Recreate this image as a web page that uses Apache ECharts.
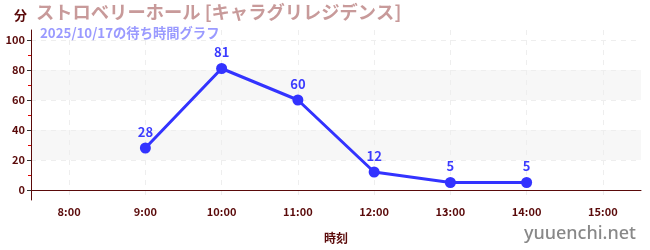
<!DOCTYPE html>
<html><head><meta charset="utf-8">
<script src="https://cdn.jsdelivr.net/npm/echarts@6/dist/echarts.min.js"></script>
<style>html,body{margin:0;padding:0;background:#fff}#c{width:650px;height:250px}</style>
</head><body><div id="c"></div>
<script>
const categories = ['8:00','9:00','10:00','11:00','12:00','13:00','14:00','15:00'];
const waitTimes = [null, 28, 81, 60, 12, 5, 5, null];
const yTicks = [0, 20, 40, 60, 80, 100];
const yMinorTicks = [10, 30, 50, 70, 90];
const yMin = -6.67, yMax = 106.67;
const titleText = 'ストロベリーホール [キャラグリレジデンス]';
const subtitleText = '2025/10/17の待ち時間グラフ';
const yName = '分';
const xName = '時刻';
const siteText = 'yuuenchi.net';

const FONT = '"Noto Sans CJK JP", "Noto Sans", sans-serif';
const MAROON = '#5a0a0a';
const chart = echarts.init(document.getElementById('c'), null, {renderer: 'canvas'});
chart.setOption({
  animation: false,
  textStyle: {fontFamily: FONT},
  title: [{
    text: titleText, left: 36, top: 3, padding: 0,
    textStyle: {fontFamily: FONT, fontSize: 18.3, fontWeight: 'bold', color: '#c89a9a'}
  }, {
    text: subtitleText, left: 40, top: 26, padding: 0,
    textStyle: {fontFamily: FONT, fontSize: 13.3, fontWeight: 'bold', color: '#9a9aff'}
  }],
  grid: {left: 31, right: 9, top: 30, bottom: 50, containLabel: false},
  xAxis: {
    type: 'category', data: categories, boundaryGap: true,
    name: xName, nameLocation: 'middle', nameGap: 32,
    nameTextStyle: {fontFamily: FONT, fontSize: 12, fontWeight: 'bold', color: MAROON},
    axisLine: {lineStyle: {color: MAROON, width: 1}},
    axisTick: {alignWithLabel: true, length: 4, lineStyle: {color: '#555'}},
    axisLabel: {fontFamily: FONT, fontSize: 11, fontWeight: 'bold', color: MAROON, margin: 6},
    splitLine: {show: true, alignWithLabel: true, lineStyle: {color: '#eeeeee', type: [5, 5]}}
  },
  yAxis: [{
    type: 'value', min: yMin, max: yMax,
    name: yName, nameLocation: 'end', nameGap: 8,
    nameTextStyle: {fontFamily: FONT, fontSize: 13, fontWeight: 'bold', color: MAROON, align: 'right', padding: [0, 4, 0, 0]},
    axisLine: {show: true, lineStyle: {color: MAROON, width: 1}},
    axisTick: {show: true, customValues: yTicks, length: 4, lineStyle: {color: '#333'}},
    axisLabel: {customValues: yTicks, fontFamily: FONT, fontSize: 11, fontWeight: 'bold', color: MAROON, margin: 6},
    splitLine: {show: true, lineStyle: {color: '#eeeeee', type: [5, 5]}},
    splitArea: {show: true, areaStyle: {color: ['rgba(0,0,0,0)', '#f7f7f7']}}
  }, {
    type: 'value', min: yMin, max: yMax, position: 'left',
    axisLine: {show: false},
    axisTick: {show: true, customValues: yMinorTicks, length: 3, lineStyle: {color: '#e00000', width: 1}},
    axisLabel: {show: false},
    splitLine: {show: false}
  }],
  graphic: [{
    type: 'text', right: 14, bottom: 7,
    style: {text: siteText, fontFamily: '"Noto Sans", sans-serif', fontSize: 18, fontWeight: 500, fill: '#888888'}
  }],
  series: [{
    type: 'line', data: waitTimes, yAxisIndex: 0,
    symbol: 'circle', symbolSize: 11, connectNulls: false,
    lineStyle: {color: '#3333ff', width: 3},
    itemStyle: {color: '#3333ff'},
    label: {show: true, position: 'top', distance: 4, fontFamily: FONT, fontSize: 13, fontWeight: 'bold', color: '#3b3bff'}
  }]
});
</script></body></html>
